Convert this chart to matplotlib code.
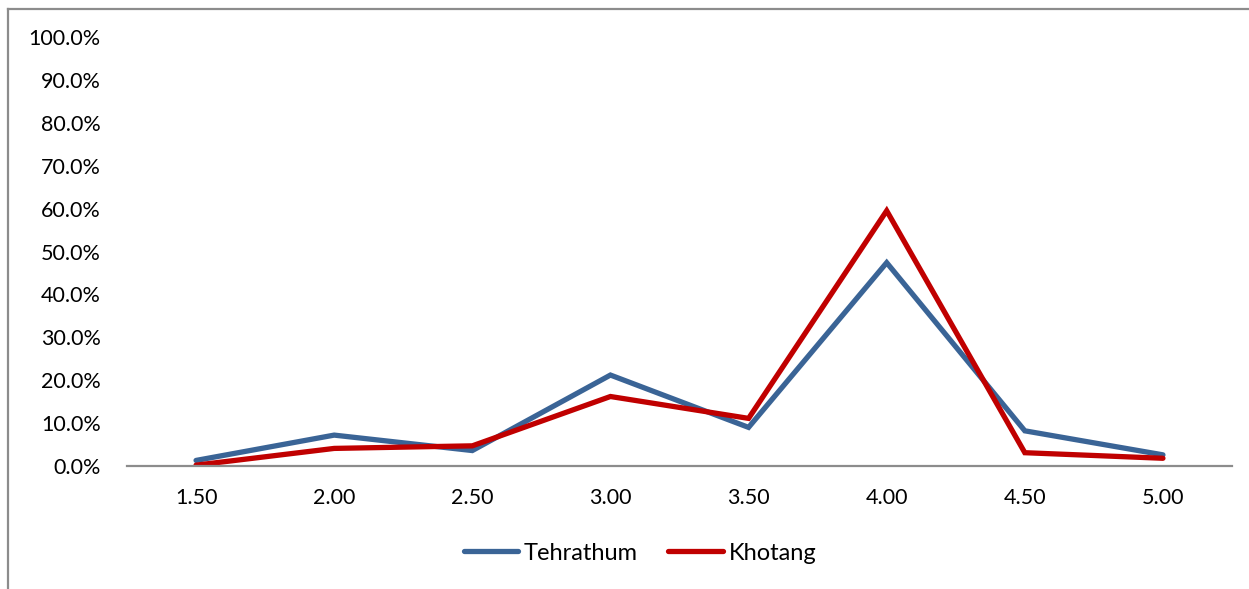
import matplotlib
matplotlib.use("Agg")
import matplotlib.pyplot as plt
from matplotlib.lines import Line2D
from matplotlib.ticker import PercentFormatter

categories = ["1.50", "2.00", "2.50", "3.00", "3.50", "4.00", "4.50", "5.00"]
tehrathum = [1.3, 7.2, 3.6, 21.2, 9.0, 47.4, 8.2, 2.6]
khotang = [0.2, 4.1, 4.7, 16.2, 11.1, 59.5, 3.1, 1.8]

plt.rcParams['font.family'] = ['Lato', 'DejaVu Sans']

W, H = 1249, 589
fig = plt.figure(figsize=(W / 100, H / 100), dpi=100)
ax = fig.add_axes([127 / W, 1 - 466 / H, (1232 - 127) / W, (466 - 37) / H])

x = list(range(len(categories)))
ax.plot(x, tehrathum, color="#3A6496", lw=3.8, label="Tehrathum", solid_capstyle="round", solid_joinstyle="miter")
ax.plot(x, khotang, color="#C00000", lw=3.8, label="Khotang", solid_capstyle="round", solid_joinstyle="miter")

ax.set_xlim(-0.5, len(categories) - 0.5)
ax.set_ylim(0, 100)
ax.set_yticks(range(0, 101, 10))
ax.yaxis.set_major_formatter(PercentFormatter(decimals=1))
ax.set_xticks(x)
ax.set_xticklabels(categories)

for s in ["top", "right", "left"]:
    ax.spines[s].set_visible(False)
ax.spines["bottom"].set_color("#8C8C8C")
ax.spines["bottom"].set_linewidth(1.6)
ax.tick_params(axis="both", length=0, labelsize=15.5, colors="black")
ax.tick_params(axis="y", pad=19)
ax.tick_params(axis="x", pad=16)

leg = fig.legend(loc="center", bbox_to_anchor=(640 / W, 1 - 553 / H), ncol=2, frameon=False,
                 fontsize=17, handlelength=2.3, columnspacing=1.3, handletextpad=0.25)

# outer frame (left and top edges)
fig.add_artist(Line2D([8 / W, 8 / W], [0, 1 - 9 / H], transform=fig.transFigure, color="#8C8C8C", lw=1.6))
fig.add_artist(Line2D([8 / W, 1], [1 - 9 / H, 1 - 9 / H], transform=fig.transFigure, color="#8C8C8C", lw=1.6))

fig.savefig("out.png", dpi=100)
